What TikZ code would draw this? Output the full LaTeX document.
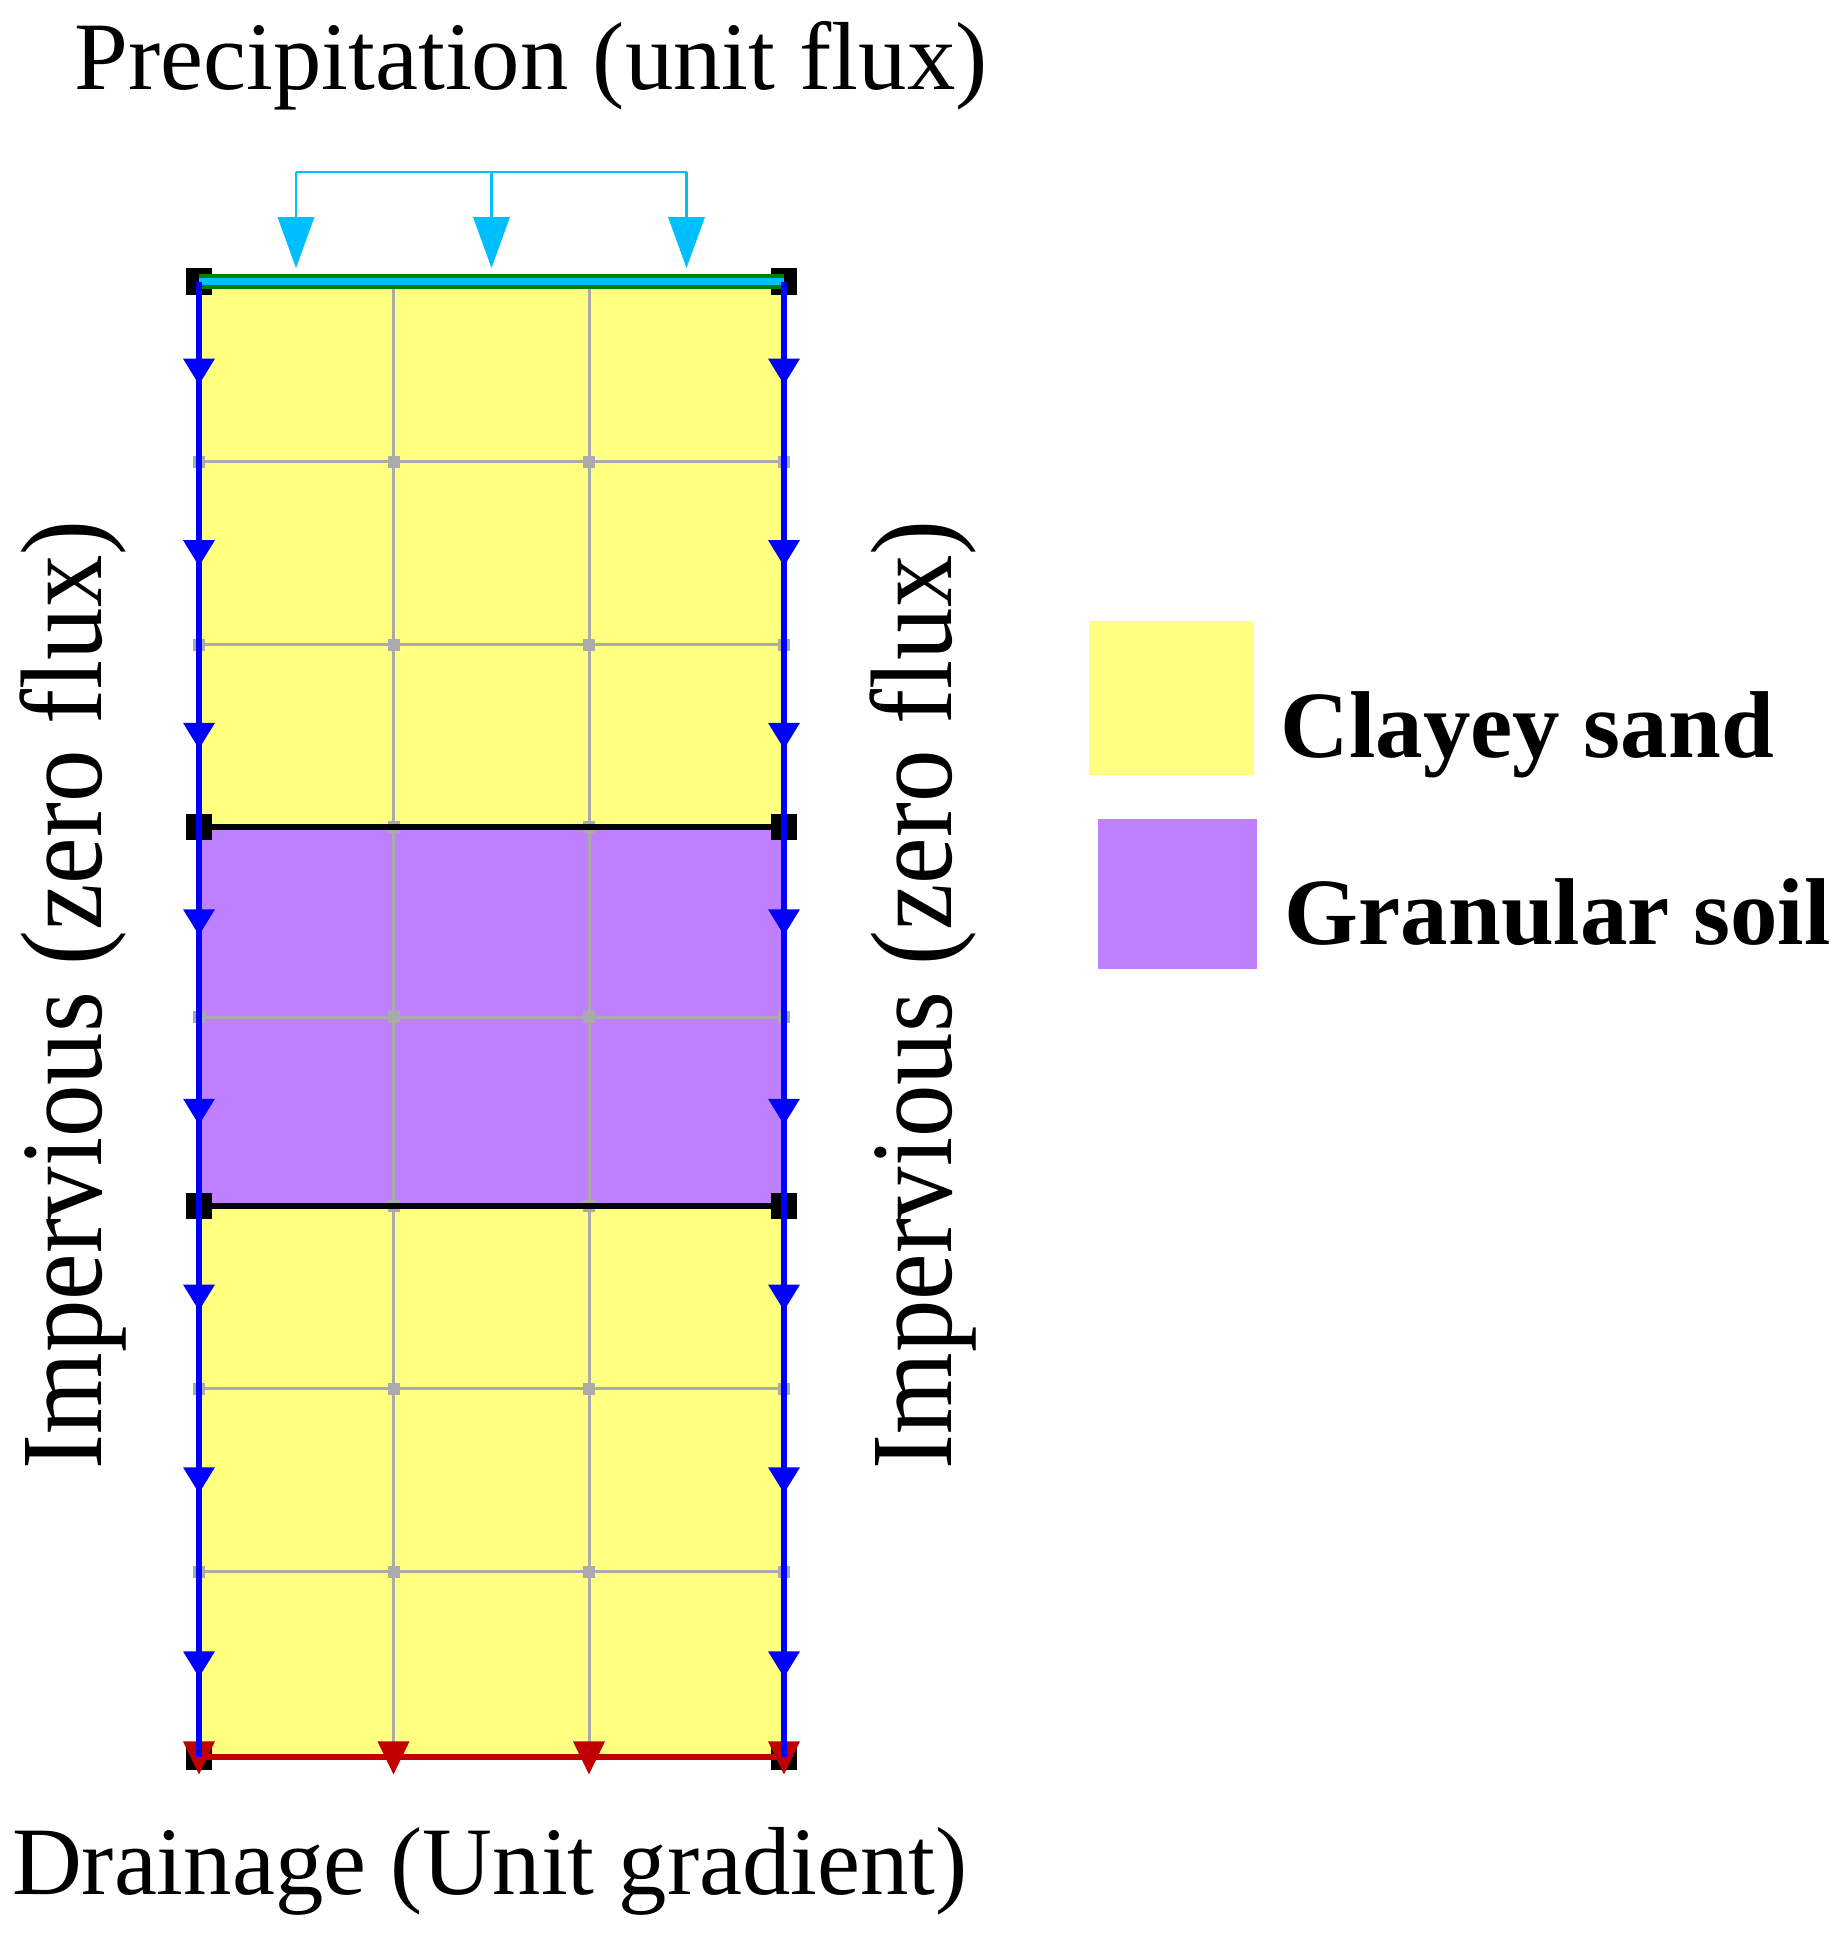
\documentclass[tikz,border=0pt]{standalone}
\usepackage{fontspec}
\setmainfont{Liberation Serif}
\usetikzlibrary{calc}
\definecolor{clay}{RGB}{255,255,128}
\definecolor{gran}{RGB}{191,128,255}
\definecolor{gridgray}{RGB}{170,170,170}
\definecolor{bndblue}{RGB}{0,0,255}
\definecolor{precip}{RGB}{0,191,255}
\definecolor{topgreen}{RGB}{0,128,0}
\definecolor{drainred}{RGB}{192,0,0}
\newcommand\lblfont{\fontsize{27.5pt}{30pt}\selectfont}
\newcommand\sidefont{\fontsize{33pt}{36pt}\selectfont}
\newcommand\legfont{\fontsize{27pt}{30pt}\selectfont\bfseries}
\begin{document}
\begin{tikzpicture}[x=0.01cm,y=-0.01cm,
  gridline/.style={draw=gridgray,line width=0.85pt},
  graysq/.style={fill=gridgray,inner sep=0pt,minimum size=0.12cm},
  blacksq/.style={fill=black,inner sep=0pt,minimum size=0.26cm},
  layerline/.style={draw=black,line width=1.7pt},
  bndline/.style={draw=bndblue,line width=1.7pt},
  precipline/.style={draw=precip,line width=0.85pt},
  lbl/.style={inner sep=0pt,anchor=base,font=\lblfont},
  sidelbl/.style={inner sep=0pt,anchor=base,rotate=90,font=\sidefont},
  leglbl/.style={inner sep=0pt,anchor=base west,font=\legfont},
  bluetri/.pic={\fill[bndblue] (-16,-13) -- (16,-13) -- (0,13) -- cycle;},
  redtri/.pic={\fill[drainred] (-16,-15.6) -- (16,-15.6) -- (0,17.4) -- cycle;},
  cyantri/.pic={\fill[precip] (-18.5,0) -- (18.5,0) -- (0,51) -- cycle;}
]
\useasboundingbox (0,0) rectangle (1847,1936);
% grid coordinates
\foreach \i/\x in {0/199,1/393.5,2/589,3/784}
  \foreach \j/\y in {0/281.5,1/461.7,2/644.5,3/827.2,4/1017.3,5/1206.2,6/1388.9,7/1571.6,8/1757}
    \coordinate (n\i-\j) at (\x,\y);
% soil layers
\fill[clay] (n0-0) rectangle (n3-3);
\fill[gran] (n0-3) rectangle (n3-5);
\fill[clay] (n0-5) rectangle (n3-8);
% mesh
\foreach \j in {1,2,4,6,7} \draw[gridline] (n0-\j) -- (n3-\j);
\foreach \i in {1,2} \draw[gridline] (n\i-0) -- (n\i-8);
\foreach \i in {0,1,2,3}
  \foreach \j in {1,2,3,4,5,6,7}
    \node[graysq] (g\i-\j) at (n\i-\j) {};
% layer boundaries
\draw[layerline] (n0-3) -- (n3-3);
\draw[layerline] (n0-5) -- (n3-5);
\foreach \i in {0,3}
  \foreach \j in {0,3,5,8}
    \node[blacksq] (b\i-\j) at (n\i-\j) {};
% top boundary (precipitation)
\draw[topgreen,line width=4pt] (n0-0) -- (n3-0);
\draw[precip,line width=2pt] (n0-0) -- (n3-0);
% bottom boundary (drainage)
\draw[drainred,line width=1.7pt] (n0-8) -- (n3-8);
\foreach \i in {0,1,2,3} \pic at (n\i-8) {redtri};
% side boundaries (impervious)
\draw[bndline] (n0-0) -- (n0-8);
\draw[bndline] (n3-0) -- (n3-8);
\foreach \i in {0,3}
  \foreach \j/\k in {0/1,1/2,2/3,3/4,4/5,5/6,6/7,7/8}
    \pic at ($(n\i-\j)!0.5!(n\i-\k)$) {bluetri};
% precipitation arrows
\foreach \m/\x in {1/296,2/491.5,3/686.5}{
  \coordinate (p\m) at (\x,172);
  \coordinate (h\m) at (\x,217);
}
\draw[precipline] (p1) -- (p3);
\foreach \m in {1,2,3}{
  \draw[precipline] (p\m) -- (h\m);
  \pic at (h\m) {cyantri};
}
% labels
\node[lbl] (ttop) at (531,90) {Precipitation (unit flux)};
\node[lbl] (tbot) at (490,1894) {Drainage (Unit gradient)};
\node[sidelbl] (tleft) at (101,995) {\scalebox{0.903}[1]{Impervious (zero flux)}};
\node[sidelbl] (tright) at (951,995) {\scalebox{0.903}[1]{Impervious (zero flux)}};
% legend
\node[fill=clay,inner sep=0pt,minimum width=1.65cm,minimum height=1.54cm] (legclay) at (1171.5,698) {};
\node[fill=gran,inner sep=0pt,minimum width=1.59cm,minimum height=1.50cm] (leggran) at (1177.5,894) {};
\node[leglbl] (tclay) at (1280,757) {Clayey sand};
\node[leglbl] (tgran) at (1284,944) {Granular soil};
\end{tikzpicture}
\end{document}
